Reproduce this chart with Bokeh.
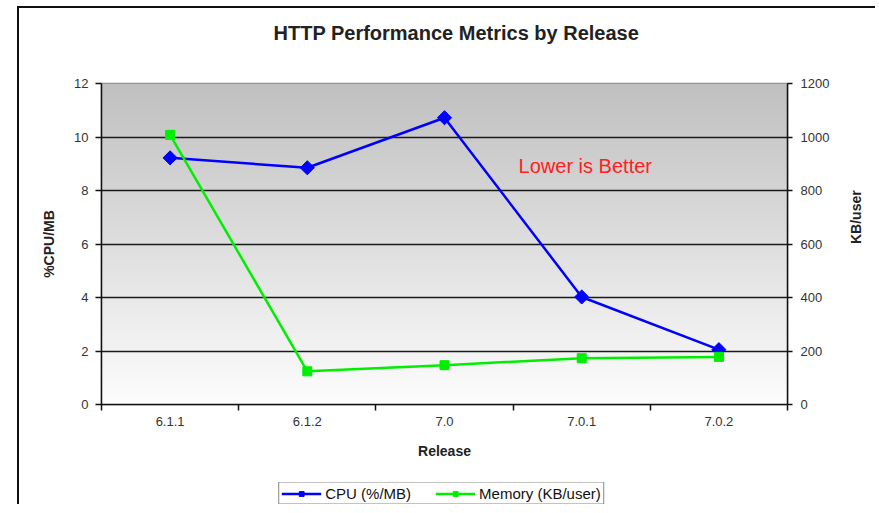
import math
import numpy as np
from bokeh.plotting import figure
from bokeh.layouts import column
from bokeh.models import Range1d, LinearAxis, FixedTicker, Legend, LegendItem, Label, Grid
from bokeh.embed import file_html
from bokeh.resources import INLINE

# ---- data ----
releases = ["6.1.1", "6.1.2", "7.0", "7.0.1", "7.0.2"]
cpu = [9.22, 8.85, 10.72, 4.02, 2.05]          # %CPU / MB
memory = [1008, 124, 147, 173, 178]            # KB / user
cpu_ticks = [0, 2, 4, 6, 8, 10, 12]
mem_ticks = [0, 200, 400, 600, 800, 1000, 1200]
series_labels = ["CPU (%/MB)", "Memory (KB/user)"]

FONT = "Liberation Sans"
CPU_COLOR = "#0000ff"
MEM_COLOR = "#00ee00"
n = len(releases)
xs = [i + 0.5 for i in range(n)]

p = figure(width=856, height=474, output_backend="svg", toolbar_location=None,
           x_range=Range1d(0, n), y_range=Range1d(cpu_ticks[0], cpu_ticks[-1]),
           min_border_left=82, min_border_right=86, min_border_top=75,
           min_border_bottom=78, x_axis_type=None, y_axis_type=None)
p.background_fill_color = "white"
p.border_fill_color = "white"
p.outline_line_color = "#8a8a8a"
p.outline_line_width = 1.5

# title
p.title.text = "HTTP Performance Metrics by Release"
p.title.align = "left"
p.title.offset = 172
p.title.vertical_align = "top"
p.title.text_font = FONT
p.title.text_font_size = "20px"
p.title.text_font_style = "bold"
p.title.text_color = "#222222"
p.title.standoff = 0
try:
    p.title.padding = dict(left=0, right=0, top=0, bottom=38)
except Exception:
    p.title.standoff = 50

# gradient background of the plot area
rows = 200
shade = np.linspace(253, 192, rows).astype(np.uint32)
img = np.empty((rows, 1), dtype=np.uint32)
view = img.view(dtype=np.uint8).reshape((rows, 1, 4))
view[:, 0, 0] = shade
view[:, 0, 1] = shade
view[:, 0, 2] = shade
view[:, 0, 3] = 255
bg = p.image_rgba(image=[img], x=0, y=cpu_ticks[0], dw=n, dh=cpu_ticks[-1] - cpu_ticks[0])
bg.level = "image"

# axes
xaxis = LinearAxis(ticker=FixedTicker(ticks=xs, minor_ticks=list(range(n + 1))),
                   major_label_overrides={x: r for x, r in zip(xs, releases)})
xaxis.axis_label = "Release"
xaxis.major_tick_out = 0
xaxis.major_tick_in = 0
xaxis.minor_tick_out = 6
xaxis.minor_tick_in = 0
xaxis.minor_tick_line_color = "#111111"
xaxis.minor_tick_line_width = 1.5
p.add_layout(xaxis, "below")

yaxis = LinearAxis(ticker=FixedTicker(ticks=cpu_ticks), axis_label="%CPU/MB")
yaxis.major_tick_out = 6
yaxis.major_tick_in = 0
yaxis.minor_tick_line_color = None
p.add_layout(yaxis, "left")

p.extra_y_ranges = {"mem": Range1d(mem_ticks[0], mem_ticks[-1])}
raxis = LinearAxis(y_range_name="mem", ticker=FixedTicker(ticks=mem_ticks), axis_label="KB/user")
raxis.major_tick_out = 5
raxis.major_tick_in = 0
raxis.minor_tick_line_color = None
raxis.axis_label_orientation = math.pi / 2
p.add_layout(raxis, "right")

for ax in (xaxis, yaxis, raxis):
    ax.axis_line_color = "#111111"
    ax.axis_line_width = 1.5
    ax.major_tick_line_color = "#111111"
    ax.major_tick_line_width = 1.5
    ax.major_label_text_font = FONT
    ax.major_label_text_font_size = "13px"
    ax.major_label_text_color = "#333333"
    ax.axis_label_text_font = FONT
    ax.axis_label_text_font_size = "14px"
    ax.axis_label_text_font_style = "bold"
    ax.axis_label_text_color = "#222222"
xaxis.major_label_standoff = 6
xaxis.axis_label_standoff = 14
yaxis.major_label_standoff = 7
yaxis.axis_label_standoff = 14
raxis.major_label_standoff = 8
raxis.axis_label_standoff = 24

# grid
ygrid = Grid(dimension=1, ticker=FixedTicker(ticks=cpu_ticks[1:-1]),
             grid_line_color="#1a1a1a", grid_line_width=1.5)
p.add_layout(ygrid)

# series
p.line(xs, cpu, line_color=CPU_COLOR, line_width=2.5)
p.scatter(xs, cpu, marker="square", angle=np.pi / 4, size=10,
          fill_color=CPU_COLOR, line_color=CPU_COLOR)
p.line(xs, memory, y_range_name="mem", line_color=MEM_COLOR, line_width=2.5)
p.scatter(xs, memory, y_range_name="mem", marker="square", size=9,
          fill_color=MEM_COLOR, line_color=MEM_COLOR)

# note
p.add_layout(Label(x=3.04, y=8.9, text="Lower is Better", text_color="#ff2020",
                   text_font=FONT, text_font_size="20px", text_baseline="middle"))

# ---- legend strip below the chart (legend keys only; nothing plotted) ----
q = figure(width=850, height=22, output_backend="svg", toolbar_location=None,
           x_range=Range1d(0, 1), y_range=Range1d(0, 1), min_border=0,
           x_axis_type=None, y_axis_type=None)
q.outline_line_color = None
q.background_fill_color = "white"
q.border_fill_color = "white"
nan = [float("nan")]
k1 = q.line(nan, nan, line_color=CPU_COLOR, line_width=2.5)
k2 = q.scatter(nan, nan, marker="square", angle=np.pi / 4, size=6,
               fill_color=CPU_COLOR, line_color=CPU_COLOR)
k3 = q.line(nan, nan, line_color=MEM_COLOR, line_width=2.5)
k4 = q.scatter(nan, nan, marker="square", size=6, fill_color=MEM_COLOR, line_color=MEM_COLOR)
legend = Legend(items=[LegendItem(label=series_labels[0], renderers=[k1, k2]),
                       LegendItem(label=series_labels[1], renderers=[k3, k4])],
                orientation="horizontal", location="center")
legend.border_line_color = "#111111"
legend.border_line_width = 1.5
legend.background_fill_color = "white"
legend.background_fill_alpha = 1
legend.label_text_font = FONT
legend.label_text_font_size = "15px"
legend.label_text_color = "#111111"
legend.glyph_width = 40
legend.glyph_height = 12
legend.label_height = 12
legend.label_standoff = 4
legend.spacing = 24
legend.padding = 2
legend.margin = 0
q.add_layout(legend)

layout = column(p, q, spacing=0)
layout.styles = {"margin-left": "17px", "margin-top": "6px",
                 "border-left": "2px solid #111", "border-top": "2px solid #111"}

open("out.html", "w").write(file_html(layout, INLINE))
